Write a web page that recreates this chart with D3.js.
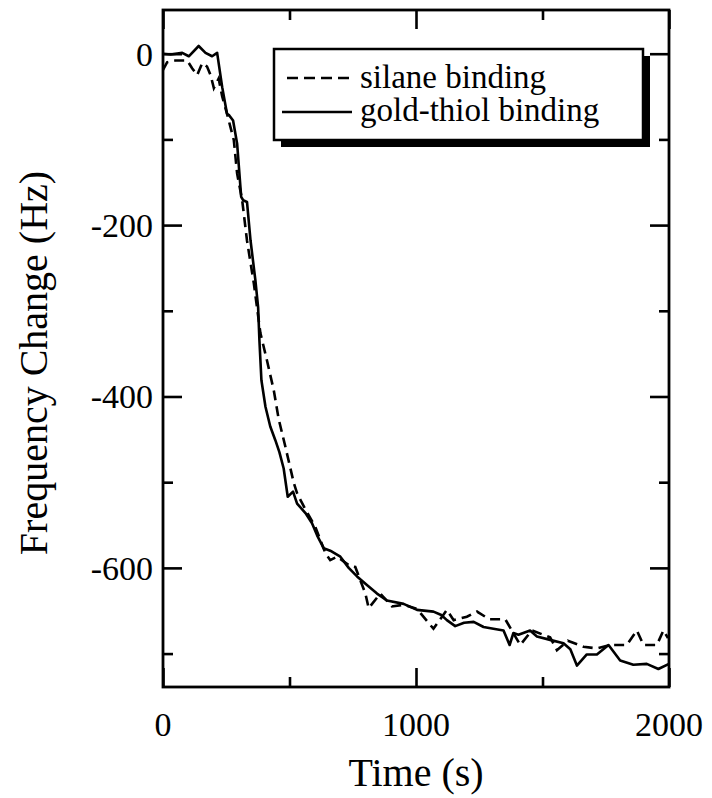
<!DOCTYPE html>
<html>
<head>
<meta charset="utf-8">
<script src="https://cdn.jsdelivr.net/npm/d3@7"></script>
<style>
  body { margin: 0; background: #fff; }
</style>
</head>
<body>
<div id="graph"></div>
<script>
// silane binding (dashed) : time (s) / frequency change (Hz)
var silaneTime = [0, 16, 49, 96, 115, 135, 155, 174, 188, 201, 220, 234, 253, 280, 293, 313, 332, 359, 385, 411, 438, 457, 484, 517, 530, 563, 602, 642, 661, 688, 740, 760, 800, 813, 859, 905, 951, 1004, 1069, 1122, 1149, 1201, 1241, 1290, 1333, 1353, 1412, 1458, 1530, 1557, 1600, 1662, 1715, 1767, 1833, 1873, 1899, 1952, 1978, 1996];
var silaneFreq = [-19, -10, -8, -8, -17, -25, -11, -15, -25, -40, -29, -50, -70, -101, -140, -171, -218, -268, -326, -358, -393, -426, -459, -501, -513, -532, -552, -583, -591, -587, -598, -599, -630, -647, -630, -645, -643, -648, -671, -649, -661, -657, -651, -660, -660, -660, -690, -673, -681, -696, -685, -692, -694, -690, -690, -673, -690, -690, -673, -682];

// gold-thiol binding (solid)
var thiolTime = [0, 30, 76, 102, 141, 168, 194, 214, 234, 253, 262, 277, 293, 309, 317, 332, 346, 365, 376, 381, 389, 405, 424, 444, 460, 477, 493, 514, 530, 563, 589, 609, 635, 661, 701, 734, 767, 806, 846, 885, 951, 1004, 1069, 1100, 1122, 1155, 1190, 1228, 1267, 1306, 1346, 1370, 1385, 1405, 1451, 1478, 1530, 1583, 1610, 1636, 1675, 1715, 1761, 1807, 1859, 1912, 1958, 2000];
var thiolFreq = [0, -1, 1, -3, 9, 1, -3, 1, -39, -70, -72, -78, -105, -167, -171, -173, -218, -264, -296, -334, -381, -412, -435, -451, -465, -484, -517, -511, -525, -536, -548, -562, -577, -580, -587, -600, -610, -620, -630, -638, -642, -649, -651, -655, -661, -668, -664, -663, -669, -671, -673, -690, -676, -678, -673, -680, -684, -688, -695, -714, -701, -701, -690, -708, -713, -712, -718, -712];

var xTicks = [0, 1000, 2000];
var xMinor = [500, 1500];
var yTicks = [0, -200, -400, -600];
var yMinor = [-100, -300, -500, -700];

var legendNames = ["silane binding", "gold-thiol binding"];

var serif = "'Liberation Serif', 'DejaVu Serif', serif";

var width = 712, height = 798;
var margin = {top: 10, right: 43, bottom: 111, left: 163};
var w = width - margin.left - margin.right,
    h = height - margin.top - margin.bottom;

var svg = d3.select("#graph").append("svg")
    .attr("width", width)
    .attr("height", height)
    .attr("font-family", serif);

var g = svg.append("g")
    .attr("transform", "translate(" + margin.left + "," + margin.top + ")");

var x = d3.scaleLinear().domain([0, 2000]).range([0, w]);
var y = d3.scaleLinear().domain([-739, 51]).range([h, 0]);

function zip(ts, vs) {
  return ts.map(function(t, i) { return {t: t, v: vs[i]}; });
}

var line = d3.line()
    .x(function(d) { return x(d.t); })
    .y(function(d) { return y(d.v); });

// data lines
g.append("path")
  .datum(zip(silaneTime, silaneFreq))
  .attr("fill", "none")
  .attr("stroke", "#000")
  .attr("stroke-width", 2.6)
  .attr("stroke-dasharray", "10,6")
  .attr("d", line);

g.append("path")
  .datum(zip(thiolTime, thiolFreq))
  .attr("fill", "none")
  .attr("stroke", "#000")
  .attr("stroke-width", 2.6)
  .attr("stroke-linejoin", "round")
  .attr("d", line);

// axes: ticks pointing inward on all four sides
function styleAxis(sel) {
  sel.select(".domain").remove();
  sel.selectAll(".tick line").attr("stroke", "#000").attr("stroke-width", 2.6);
}

g.append("g").attr("transform", "translate(0," + h + ")")
  .call(d3.axisTop(x).tickValues(xTicks).tickSize(19).tickFormat(""))
  .call(styleAxis);
g.append("g").attr("transform", "translate(0," + h + ")")
  .call(d3.axisTop(x).tickValues(xMinor).tickSize(10).tickFormat(""))
  .call(styleAxis);
g.append("g")
  .call(d3.axisBottom(x).tickValues(xTicks).tickSize(19).tickFormat(""))
  .call(styleAxis);
g.append("g")
  .call(d3.axisBottom(x).tickValues(xMinor).tickSize(10).tickFormat(""))
  .call(styleAxis);

g.append("g")
  .call(d3.axisRight(y).tickValues(yTicks).tickSize(19).tickFormat(""))
  .call(styleAxis);
g.append("g")
  .call(d3.axisRight(y).tickValues(yMinor).tickSize(10).tickFormat(""))
  .call(styleAxis);
g.append("g").attr("transform", "translate(" + w + ",0)")
  .call(d3.axisLeft(y).tickValues(yTicks).tickSize(19).tickFormat(""))
  .call(styleAxis);
g.append("g").attr("transform", "translate(" + w + ",0)")
  .call(d3.axisLeft(y).tickValues(yMinor).tickSize(10).tickFormat(""))
  .call(styleAxis);

// frame
g.append("rect")
  .attr("width", w).attr("height", h)
  .attr("fill", "none")
  .attr("stroke", "#000")
  .attr("stroke-width", 2.8);

// tick labels
g.selectAll(".xlab").data(xTicks).enter().append("text")
  .attr("x", function(d) { return x(d); })
  .attr("y", h + 49)
  .attr("text-anchor", "middle")
  .style("font-family", serif)
  .style("font-size", "34px")
  .text(function(d) { return d; });

g.selectAll(".ylab").data(yTicks).enter().append("text")
  .attr("x", -10)
  .attr("y", function(d) { return y(d); })
  .attr("dy", "0.35em")
  .attr("text-anchor", "end")
  .style("font-family", serif)
  .style("font-size", "34px")
  .text(function(d) { return d; });

// axis titles
g.append("text")
  .attr("x", w / 2)
  .attr("y", h + 99)
  .attr("text-anchor", "middle")
  .style("font-family", serif)
  .style("font-size", "40px")
  .text("Time (s)");

svg.append("text")
  .attr("transform", "translate(47," + 363 + ") rotate(-90)")
  .attr("text-anchor", "middle")
  .style("font-family", serif)
  .style("font-size", "40px")
  .text("Frequency Change (Hz)");

// legend
var lg = svg.append("g").attr("transform", "translate(274,49)");
var lw = 369, lh = 91;
lg.append("rect").attr("x", 7).attr("y", 7).attr("width", lw).attr("height", lh).attr("fill", "#000");
lg.append("rect").attr("width", lw).attr("height", lh)
  .attr("fill", "#fff").attr("stroke", "#000").attr("stroke-width", 2.5);

lg.selectAll(".lline").data(legendNames).enter().append("line")
  .attr("x1", function(d, i) { return i === 0 ? 13 : 8; })
  .attr("x2", 78)
  .attr("y1", function(d, i) { return 29 + i * 34; })
  .attr("y2", function(d, i) { return 29 + i * 34; })
  .attr("stroke", "#000")
  .attr("stroke-width", 2.6)
  .attr("stroke-dasharray", function(d, i) { return i === 0 ? "11,6" : null; });

lg.selectAll(".ltext").data(legendNames).enter().append("text")
  .attr("x", 86)
  .attr("y", function(d, i) { return 39 + i * 33; })
  .style("font-family", serif)
  .style("font-size", "33px")
  .text(function(d) { return d; });
</script>
</body>
</html>
